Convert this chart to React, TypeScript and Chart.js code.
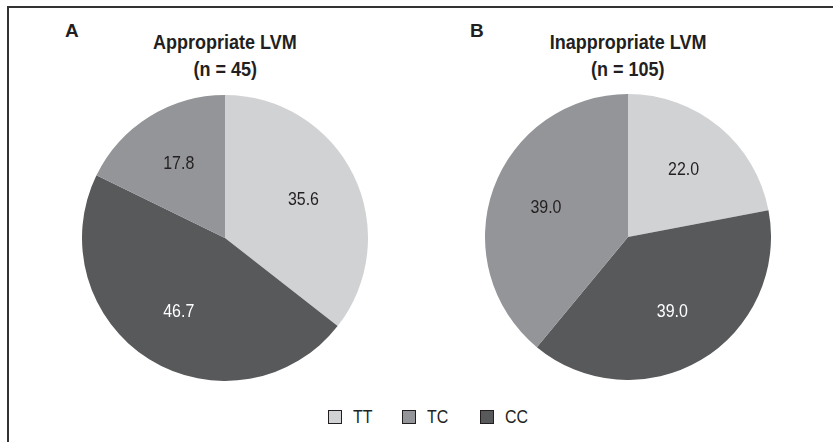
import React, { useEffect, useRef } from "react";
import { Chart, registerables } from "chart.js";

Chart.register(...registerables);

// Slice order as drawn (clockwise from 12 o'clock)
const sliceCategories = ["TT", "CC", "TC"];
const appropriateValues = [35.6, 46.7, 17.8];
const inappropriateValues = [22.0, 39.0, 39.0];
// Legend order
const legendCategories = ["TT", "TC", "CC"];

const panelLetters = ["A", "B"];
const panelTitles = ["Appropriate LVM", "Inappropriate LVM"];
const panelSubtitles = ["(n = 45)", "(n = 105)"];

const COLORS: Record<string, string> = {
  TT: "#d1d2d4",
  TC: "#939598",
  CC: "#58595b",
};
const LABEL_COLORS: Record<string, string> = {
  TT: "#231f20",
  TC: "#231f20",
  CC: "#ffffff",
};

const FONT = "'Liberation Sans', Arial, sans-serif";
const NARROW = 0.84;
const TITLE_NARROW = 0.9;

const valueLabelPlugin = {
  id: "valueLabels",
  afterDatasetsDraw(chart: any) {
    const ctx = chart.ctx;
    const meta = chart.getDatasetMeta(0);
    const data = chart.data.datasets[0].data as number[];
    const labels = chart.data.labels as string[];
    ctx.save();
    ctx.font = `19px ${FONT}`;
    ctx.textAlign = "center";
    ctx.textBaseline = "middle";
    ctx.scale(NARROW, 1);
    meta.data.forEach((arc: any, i: number) => {
      const p = arc.getProps(["x", "y", "startAngle", "endAngle", "outerRadius"], true);
      const mid = (p.startAngle + p.endAngle) / 2;
      const r = p.outerRadius * 0.61;
      ctx.fillStyle = LABEL_COLORS[labels[i]];
      ctx.fillText(
        data[i].toFixed(1),
        (p.x + Math.cos(mid) * r) / NARROW,
        p.y + Math.sin(mid) * r
      );
    });
    ctx.restore();
  },
};

function Pie({ values, left, top, size }: { values: number[]; left: number; top: number; size: number }) {
  const ref = useRef<HTMLCanvasElement>(null);
  useEffect(() => {
    if (!ref.current) return;
    const chart = new Chart(ref.current, {
      type: "pie",
      data: {
        labels: sliceCategories,
        datasets: [
          {
            data: values,
            backgroundColor: sliceCategories.map((c) => COLORS[c]),
            borderWidth: 0,
          },
        ],
      },
      options: {
        animation: false,
        responsive: false,
        maintainAspectRatio: false,
        events: [],
        layout: { padding: 0 },
        plugins: {
          legend: { display: false },
          tooltip: { enabled: false },
          title: { display: false },
        },
      },
      plugins: [valueLabelPlugin],
    });
    return () => chart.destroy();
  }, [values]);
  return (
    <canvas
      ref={ref}
      width={size}
      height={size}
      style={{ position: "absolute", left, top, width: size, height: size }}
    />
  );
}

const narrowText = (s: number): React.CSSProperties => ({
  display: "inline-block",
  transform: `scaleX(${s})`,
  whiteSpace: "nowrap",
});

export default function App() {
  const panelCenters = [225, 628];
  const pieValues = [appropriateValues, inappropriateValues];
  const letterLefts = [65, 470];
  const legendLefts = [328, 402, 480];
  return (
    <div
      style={{
        position: "absolute",
        left: 0,
        top: 0,
        width: 833,
        height: 442,
        background: "#ffffff",
        overflow: "hidden",
        fontFamily: FONT,
        color: "#231f20",
      }}
    >
      {/* frame */}
      <div
        style={{
          position: "absolute",
          left: 7,
          top: 6,
          width: 840,
          height: 460,
          borderLeft: "2px solid #333333",
          borderTop: "2px solid #333333",
        }}
      />
      {panelCenters.map((cx, i) => (
        <React.Fragment key={i}>
          <div
            style={{
              position: "absolute",
              left: letterLefts[i],
              top: 22,
              fontSize: 19,
              lineHeight: "18px",
              fontWeight: "bold",
            }}
          >
            <span style={{ ...narrowText(1), transformOrigin: "left center" }}>{panelLetters[i]}</span>
          </div>
          <div
            style={{
              position: "absolute",
              left: cx - 120,
              width: 240,
              top: 29,
              textAlign: "center",
              fontSize: 20,
              lineHeight: "27px",
              fontWeight: "bold",
            }}
          >
            <div>
              <span style={narrowText(TITLE_NARROW)}>{panelTitles[i]}</span>
            </div>
            <div>
              <span style={narrowText(TITLE_NARROW)}>{panelSubtitles[i]}</span>
            </div>
          </div>
          <Pie values={pieValues[i]} left={cx - 143} top={i === 0 ? 95 : 94} size={286} />
        </React.Fragment>
      ))}
      {legendCategories.map((c, i) => (
        <div
          key={c}
          style={{
            position: "absolute",
            left: legendLefts[i],
            top: 408,
            display: "flex",
            alignItems: "center",
            height: 17,
          }}
        >
          <div
            style={{
              width: 12,
              height: 12,
              background: COLORS[c],
              border: "1.5px solid #231f20",
              marginRight: 11,
            }}
          />
          <span
            style={{ ...narrowText(NARROW), transformOrigin: "left center", fontSize: 19, lineHeight: "17px" }}
          >
            {c}
          </span>
        </div>
      ))}
    </div>
  );
}
